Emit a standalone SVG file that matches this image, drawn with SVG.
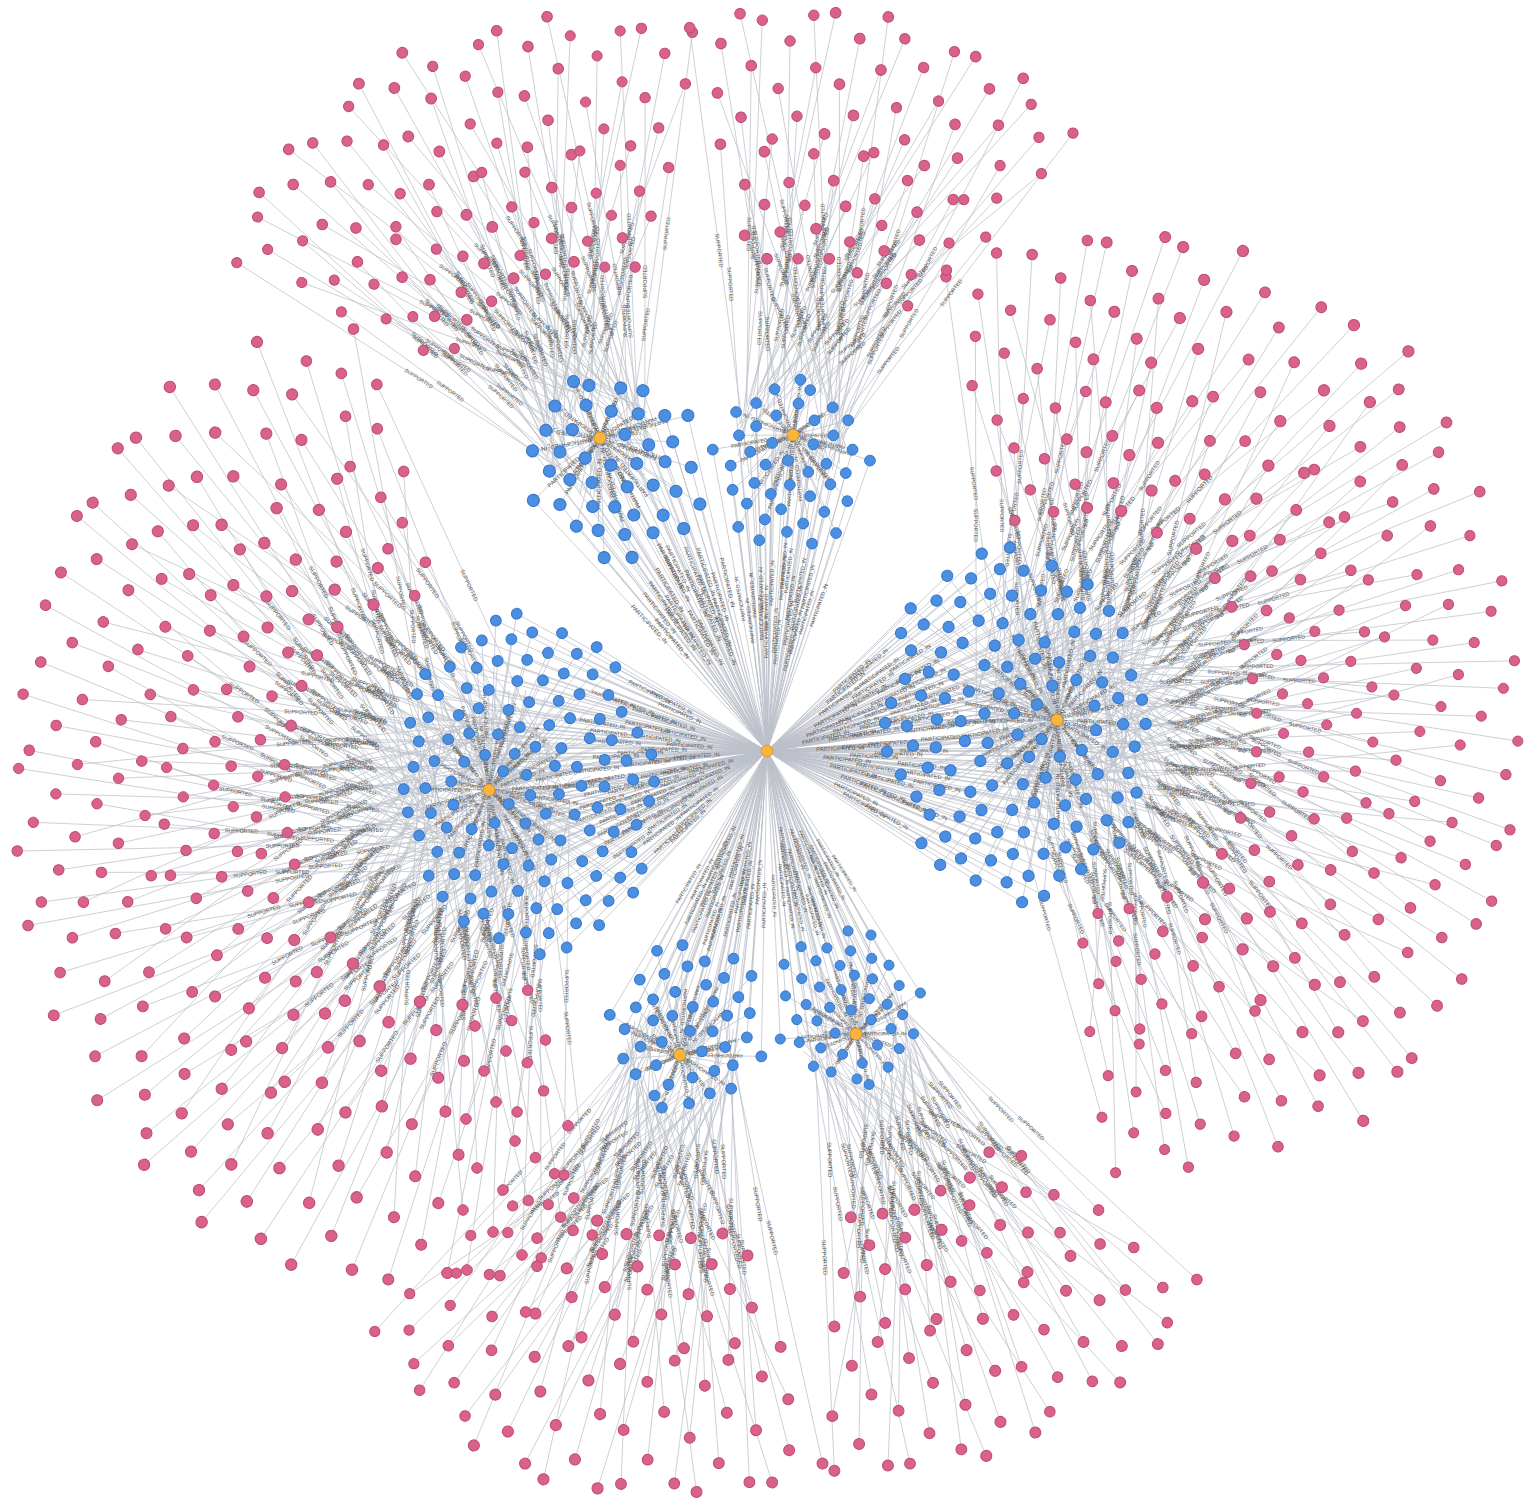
<svg xmlns="http://www.w3.org/2000/svg" width="1532" height="1512" viewBox="0 0 1532 1512">
<style>
.e{fill:none;stroke:#bcc0c9;stroke-width:.75;vector-effect:non-scaling-stroke}
.p circle{fill:#d8628b;stroke:#c04b75;stroke-width:1}
.b circle{fill:#4a8fe1;stroke:#3877c8;stroke-width:1}
.y{fill:#fbb53c;stroke:#e09b24;stroke-width:1}
text{font-family:"Liberation Sans",Arial,sans-serif;font-size:5.5px;fill:#555;text-anchor:middle;dominant-baseline:central}
</style>
<rect width="1532" height="1512" fill="#fff"/>
<defs>
<path id="pbL" class="e" d="M208 -7L50 -30M236 14L70 40M261 -17L10 20M281 5L80 -20M312 -7L-40 60M329 23L30 -60M351 -26L60 10M378 12L-70 30M400 -14L20 -80M420 26L-20 70M442 -4L-100 -20M465 -33L40 -50M480 22L-50 -60"/>
<g id="pbN" class="p"><circle cx="208" cy="-7" r="5.3"/><circle cx="236" cy="14" r="5.3"/><circle cx="261" cy="-17" r="5.3"/><circle cx="281" cy="5" r="5.3"/><circle cx="312" cy="-7" r="5.3"/><circle cx="329" cy="23" r="5.3"/><circle cx="351" cy="-26" r="5.3"/><circle cx="378" cy="12" r="5.3"/><circle cx="400" cy="-14" r="5.3"/><circle cx="420" cy="26" r="5.3"/><circle cx="442" cy="-4" r="5.3"/><circle cx="465" cy="-33" r="5.3"/><circle cx="480" cy="22" r="5.3"/></g>
<g id="pbT"><text transform="translate(129 -18.5)rotate(8.3)">SUPPORTED</text><text transform="translate(153 27)rotate(-8.9)">SUPPORTED</text><text transform="translate(135.5 1.5)rotate(-8.4)">SUPPORTED</text><text transform="translate(180.5 -7.5)rotate(7.1)">SUPPORTED</text><text transform="translate(136 26.5)rotate(-10.8)">SUPPORTED</text><text transform="translate(179.5 -18.5)rotate(15.5)">SUPPORTED</text><text transform="translate(205.5 -8)rotate(-7.1)">SUPPORTED</text><text transform="translate(154 21)rotate(-2.3)">SUPPORTED</text><text transform="translate(210 -47)rotate(9.9)">SUPPORTED</text><text transform="translate(200 48)rotate(-5.7)">SUPPORTED</text><text transform="translate(171 -12)rotate(1.7)">SUPPORTED</text><text transform="translate(252.5 -41.5)rotate(2.3)">SUPPORTED</text><text transform="translate(215 -19)rotate(8.8)">SUPPORTED</text></g>
<g id="pbF"><text transform="translate(129 -18.5)rotate(188.3)">SUPPORTED</text><text transform="translate(153 27)rotate(171.1)">SUPPORTED</text><text transform="translate(135.5 1.5)rotate(171.6)">SUPPORTED</text><text transform="translate(180.5 -7.5)rotate(187.1)">SUPPORTED</text><text transform="translate(136 26.5)rotate(169.2)">SUPPORTED</text><text transform="translate(179.5 -18.5)rotate(195.5)">SUPPORTED</text><text transform="translate(205.5 -8)rotate(172.9)">SUPPORTED</text><text transform="translate(154 21)rotate(177.7)">SUPPORTED</text><text transform="translate(210 -47)rotate(189.9)">SUPPORTED</text><text transform="translate(200 48)rotate(174.3)">SUPPORTED</text><text transform="translate(171 -12)rotate(181.7)">SUPPORTED</text><text transform="translate(252.5 -41.5)rotate(182.3)">SUPPORTED</text><text transform="translate(215 -19)rotate(188.8)">SUPPORTED</text></g>
<path id="psL" class="e" d="M178 5L30 -20M205 -13L40 30M232 12L-10 -40M255 -4L50 10M284 21L-40 30M299 -21L20 -50M322 4L60 -10M350 -15L-20 50M371 23L40 -40M398 -3L-60 -10M424 21L10 40M419 -31L-30 -50"/>
<g id="psN" class="p"><circle cx="178" cy="5" r="5.3"/><circle cx="205" cy="-13" r="5.3"/><circle cx="232" cy="12" r="5.3"/><circle cx="255" cy="-4" r="5.3"/><circle cx="284" cy="21" r="5.3"/><circle cx="299" cy="-21" r="5.3"/><circle cx="322" cy="4" r="5.3"/><circle cx="350" cy="-15" r="5.3"/><circle cx="371" cy="23" r="5.3"/><circle cx="398" cy="-3" r="5.3"/><circle cx="424" cy="21" r="5.3"/><circle cx="419" cy="-31" r="5.3"/></g>
<g id="psT"><text transform="translate(104 -7.5)rotate(9.6)">SUPPORTED</text><text transform="translate(122.5 8.5)rotate(-14.6)">SUPPORTED</text><text transform="translate(111 -14)rotate(12.1)">SUPPORTED</text><text transform="translate(152.5 3)rotate(-3.9)">SUPPORTED</text><text transform="translate(122 25.5)rotate(-1.6)">SUPPORTED</text><text transform="translate(159.5 -35.5)rotate(5.9)">SUPPORTED</text><text transform="translate(191 -3)rotate(3.1)">SUPPORTED</text><text transform="translate(165 17.5)rotate(-10)">SUPPORTED</text><text transform="translate(205.5 -8.5)rotate(10.8)">SUPPORTED</text><text transform="translate(169 -6.5)rotate(.9)">SUPPORTED</text><text transform="translate(217 30.5)rotate(-2.6)">SUPPORTED</text><text transform="translate(194.5 -40.5)rotate(2.4)">SUPPORTED</text></g>
<g id="psF"><text transform="translate(104 -7.5)rotate(189.6)">SUPPORTED</text><text transform="translate(122.5 8.5)rotate(165.4)">SUPPORTED</text><text transform="translate(111 -14)rotate(192.1)">SUPPORTED</text><text transform="translate(152.5 3)rotate(176.1)">SUPPORTED</text><text transform="translate(122 25.5)rotate(178.4)">SUPPORTED</text><text transform="translate(159.5 -35.5)rotate(185.9)">SUPPORTED</text><text transform="translate(191 -3)rotate(183.1)">SUPPORTED</text><text transform="translate(165 17.5)rotate(170)">SUPPORTED</text><text transform="translate(205.5 -8.5)rotate(190.8)">SUPPORTED</text><text transform="translate(169 -6.5)rotate(180.9)">SUPPORTED</text><text transform="translate(217 30.5)rotate(177.4)">SUPPORTED</text><text transform="translate(194.5 -40.5)rotate(182.4)">SUPPORTED</text></g>
<path id="bbL" class="e" d="M0 0L-168 -15L-286 0M0 0L-147 -10L-286 0M0 0L-117 -13L-286 0M0 0L-94 -9L-286 0M0 0L-70 -14L-286 0M0 0L-41 -11L-286 0M0 0L-18 -17L-286 0M0 0L38 -10L-286 0M0 0L62 -15L-286 0M0 0L85 -11L-286 0M0 0L-160 -34L-286 0M0 0L-130 -38L-286 0M0 0L-107 -33L-286 0M0 0L-83 -37L-286 0M0 0L-54 -32L-286 0M0 0L-32 -39L-286 0M0 0L-1 -34L-286 0M0 0L23 -37L-286 0M0 0L48 -32L-286 0M0 0L77 -36L-286 0M0 0L-144 -56L-286 0M0 0L-120 -60L-286 0M0 0L-96 -55L-286 0M0 0L-65 -61L-286 0M0 0L-43 -57L-286 0M0 0L-15 -62L-286 0M0 0L8 -56L-286 0M0 0L39 -59L-286 0M0 0L61 -55L-286 0M0 0L-135 -83L-286 0M0 0L-106 -78L-286 0M0 0L-84 -85L-286 0M0 0L-53 -79L-286 0M0 0L-29 -82L-286 0M0 0L-4 -77L-286 0M0 0L26 -84L-286 0M0 0L47 -80L-286 0M0 0L73 -78L-286 0M0 0L-143 -101L-286 0M0 0L-120 -107L-286 0M0 0L-96 -102L-286 0M0 0L-66 -105L-286 0M0 0L-43 -100L-286 0M0 0L-15 -106L-286 0M0 0L12 -103L-286 0M0 0L34 -107L-286 0M0 0L62 -101L-286 0M0 0L-131 -124L-286 0M0 0L-105 -129L-286 0M0 0L-82 -125L-286 0M0 0L-52 -130L-286 0M0 0L-31 -126L-286 0M0 0L-2 -128L-286 0M0 0L23 -124L-286 0M0 0L44 -129L-286 0M0 0L-92 -152L-286 0M0 0L-69 -147L-286 0M0 0L-40 -153L-286 0M0 0L-17 -149L-286 0M0 0L11 -151L-286 0M0 0L-56 -170L-286 0M0 0L-28 -173L-286 0M0 0L-169 13L-286 0M0 0L-143 10L-286 0M0 0L-121 14L-286 0M0 0L-92 11L-286 0M0 0L-70 15L-286 0M0 0L-40 10L-286 0M0 0L-17 17L-286 0M0 0L37 14L-286 0M0 0L64 11L-286 0M0 0L86 13L-286 0M0 0L-158 37L-286 0M0 0L-131 33L-286 0M0 0L-109 38L-286 0M0 0L-79 32L-286 0M0 0L-53 37L-286 0M0 0L-31 33L-286 0M0 0L-1 36L-286 0M0 0L21 32L-286 0M0 0L51 37L-286 0M0 0L73 34L-286 0M0 0L-145 60L-286 0M0 0L-122 56L-286 0M0 0L-92 61L-286 0M0 0L-70 57L-286 0M0 0L-40 59L-286 0M0 0L-17 55L-286 0M0 0L12 60L-286 0M0 0L34 57L-286 0M0 0L64 59L-286 0M0 0L-134 79L-286 0M0 0L-105 84L-286 0M0 0L-83 80L-286 0M0 0L-53 83L-286 0M0 0L-31 78L-286 0M0 0L-1 84L-286 0M0 0L20 80L-286 0M0 0L51 82L-286 0M0 0L70 79L-286 0M0 0L-145 106L-286 0M0 0L-121 102L-286 0M0 0L-92 107L-286 0M0 0L-70 103L-286 0M0 0L-44 106L-286 0M0 0L-14 101L-286 0M0 0L8 106L-286 0M0 0L38 103L-286 0M0 0L59 107L-286 0M0 0L-129 129L-286 0M0 0L-108 125L-286 0M0 0L-79 130L-286 0M0 0L-57 126L-286 0M0 0L-27 129L-286 0M0 0L-5 125L-286 0M0 0L22 130L-286 0M0 0L48 126L-286 0M0 0L-96 148L-286 0M0 0L-66 153L-286 0M0 0L-44 149L-286 0M0 0L-14 152L-286 0M0 0L8 148L-286 0M0 0L-53 174L-286 0M0 0L-31 170L-286 0"/>
<g id="bbN" class="b"><circle cx="-168" cy="-15" r="5.5"/><circle cx="-147" cy="-10" r="5.5"/><circle cx="-117" cy="-13" r="5.5"/><circle cx="-94" cy="-9" r="5.5"/><circle cx="-70" cy="-14" r="5.5"/><circle cx="-41" cy="-11" r="5.5"/><circle cx="-18" cy="-17" r="5.5"/><circle cx="38" cy="-10" r="5.5"/><circle cx="62" cy="-15" r="5.5"/><circle cx="85" cy="-11" r="5.5"/><circle cx="-160" cy="-34" r="5.5"/><circle cx="-130" cy="-38" r="5.5"/><circle cx="-107" cy="-33" r="5.5"/><circle cx="-83" cy="-37" r="5.5"/><circle cx="-54" cy="-32" r="5.5"/><circle cx="-32" cy="-39" r="5.5"/><circle cx="-1" cy="-34" r="5.5"/><circle cx="23" cy="-37" r="5.5"/><circle cx="48" cy="-32" r="5.5"/><circle cx="77" cy="-36" r="5.5"/><circle cx="-144" cy="-56" r="5.5"/><circle cx="-120" cy="-60" r="5.5"/><circle cx="-96" cy="-55" r="5.5"/><circle cx="-65" cy="-61" r="5.5"/><circle cx="-43" cy="-57" r="5.5"/><circle cx="-15" cy="-62" r="5.5"/><circle cx="8" cy="-56" r="5.5"/><circle cx="39" cy="-59" r="5.5"/><circle cx="61" cy="-55" r="5.5"/><circle cx="-135" cy="-83" r="5.5"/><circle cx="-106" cy="-78" r="5.5"/><circle cx="-84" cy="-85" r="5.5"/><circle cx="-53" cy="-79" r="5.5"/><circle cx="-29" cy="-82" r="5.5"/><circle cx="-4" cy="-77" r="5.5"/><circle cx="26" cy="-84" r="5.5"/><circle cx="47" cy="-80" r="5.5"/><circle cx="73" cy="-78" r="5.5"/><circle cx="-143" cy="-101" r="5.5"/><circle cx="-120" cy="-107" r="5.5"/><circle cx="-96" cy="-102" r="5.5"/><circle cx="-66" cy="-105" r="5.5"/><circle cx="-43" cy="-100" r="5.5"/><circle cx="-15" cy="-106" r="5.5"/><circle cx="12" cy="-103" r="5.5"/><circle cx="34" cy="-107" r="5.5"/><circle cx="62" cy="-101" r="5.5"/><circle cx="-131" cy="-124" r="5.5"/><circle cx="-105" cy="-129" r="5.5"/><circle cx="-82" cy="-125" r="5.5"/><circle cx="-52" cy="-130" r="5.5"/><circle cx="-31" cy="-126" r="5.5"/><circle cx="-2" cy="-128" r="5.5"/><circle cx="23" cy="-124" r="5.5"/><circle cx="44" cy="-129" r="5.5"/><circle cx="-92" cy="-152" r="5.5"/><circle cx="-69" cy="-147" r="5.5"/><circle cx="-40" cy="-153" r="5.5"/><circle cx="-17" cy="-149" r="5.5"/><circle cx="11" cy="-151" r="5.5"/><circle cx="-56" cy="-170" r="5.5"/><circle cx="-28" cy="-173" r="5.5"/><circle cx="-169" cy="13" r="5.5"/><circle cx="-143" cy="10" r="5.5"/><circle cx="-121" cy="14" r="5.5"/><circle cx="-92" cy="11" r="5.5"/><circle cx="-70" cy="15" r="5.5"/><circle cx="-40" cy="10" r="5.5"/><circle cx="-17" cy="17" r="5.5"/><circle cx="37" cy="14" r="5.5"/><circle cx="64" cy="11" r="5.5"/><circle cx="86" cy="13" r="5.5"/><circle cx="-158" cy="37" r="5.5"/><circle cx="-131" cy="33" r="5.5"/><circle cx="-109" cy="38" r="5.5"/><circle cx="-79" cy="32" r="5.5"/><circle cx="-53" cy="37" r="5.5"/><circle cx="-31" cy="33" r="5.5"/><circle cx="-1" cy="36" r="5.5"/><circle cx="21" cy="32" r="5.5"/><circle cx="51" cy="37" r="5.5"/><circle cx="73" cy="34" r="5.5"/><circle cx="-145" cy="60" r="5.5"/><circle cx="-122" cy="56" r="5.5"/><circle cx="-92" cy="61" r="5.5"/><circle cx="-70" cy="57" r="5.5"/><circle cx="-40" cy="59" r="5.5"/><circle cx="-17" cy="55" r="5.5"/><circle cx="12" cy="60" r="5.5"/><circle cx="34" cy="57" r="5.5"/><circle cx="64" cy="59" r="5.5"/><circle cx="-134" cy="79" r="5.5"/><circle cx="-105" cy="84" r="5.5"/><circle cx="-83" cy="80" r="5.5"/><circle cx="-53" cy="83" r="5.5"/><circle cx="-31" cy="78" r="5.5"/><circle cx="-1" cy="84" r="5.5"/><circle cx="20" cy="80" r="5.5"/><circle cx="51" cy="82" r="5.5"/><circle cx="70" cy="79" r="5.5"/><circle cx="-145" cy="106" r="5.5"/><circle cx="-121" cy="102" r="5.5"/><circle cx="-92" cy="107" r="5.5"/><circle cx="-70" cy="103" r="5.5"/><circle cx="-44" cy="106" r="5.5"/><circle cx="-14" cy="101" r="5.5"/><circle cx="8" cy="106" r="5.5"/><circle cx="38" cy="103" r="5.5"/><circle cx="59" cy="107" r="5.5"/><circle cx="-129" cy="129" r="5.5"/><circle cx="-108" cy="125" r="5.5"/><circle cx="-79" cy="130" r="5.5"/><circle cx="-57" cy="126" r="5.5"/><circle cx="-27" cy="129" r="5.5"/><circle cx="-5" cy="125" r="5.5"/><circle cx="22" cy="130" r="5.5"/><circle cx="48" cy="126" r="5.5"/><circle cx="-96" cy="148" r="5.5"/><circle cx="-66" cy="153" r="5.5"/><circle cx="-44" cy="149" r="5.5"/><circle cx="-14" cy="152" r="5.5"/><circle cx="8" cy="148" r="5.5"/><circle cx="-53" cy="174" r="5.5"/><circle cx="-31" cy="170" r="5.5"/></g>
<g id="bbH3"><text x="-84" transform="rotate(5.1)">PARTICIPATED_IN</text><text x="-47" transform="rotate(5.5)">PARTICIPATED_IN</text><text x="-21" transform="rotate(15)">PARTICIPATED_IN</text><text x="-12" transform="rotate(43.4)">PARTICIPATED_IN</text><text x="20" transform="rotate(-14.7)">PARTICIPATED_IN</text><text x="43" transform="rotate(-7.4)">PARTICIPATED_IN</text><text x="-68" transform="rotate(16.3)">PARTICIPATED_IN</text><text x="-45" transform="rotate(24)">PARTICIPATED_IN</text><text x="-25" transform="rotate(50.6)">PARTICIPATED_IN</text><text x="22" transform="rotate(-58.1)">PARTICIPATED_IN</text><text x="42" transform="rotate(-25.1)">PARTICIPATED_IN</text><text x="-67" transform="rotate(26.6)">PARTICIPATED_IN</text><text x="-36" transform="rotate(53)">PARTICIPATED_IN</text><text x="28" transform="rotate(-81.9)">PARTICIPATED_IN</text><text x="41" transform="rotate(-42)">PARTICIPATED_IN</text><text x="-60" transform="rotate(45.3)">PARTICIPATED_IN</text><text x="-39" transform="rotate(87)">PARTICIPATED_IN</text><text x="46" transform="rotate(-59.6)">PARTICIPATED_IN</text><text x="-54" transform="rotate(66.7)">PARTICIPATED_IN</text><text x="56" transform="rotate(-72.4)">PARTICIPATED_IN</text><text x="-70" transform="rotate(68.2)">PARTICIPATED_IN</text><text x="-64" transform="rotate(89.1)">PARTICIPATED_IN</text><text x="-75" transform="rotate(83.5)">PARTICIPATED_IN</text><text x="-72" transform="rotate(-4)">PARTICIPATED_IN</text><text x="-36" transform="rotate(-12.1)">PARTICIPATED_IN</text><text x="-12" transform="rotate(-45)">PARTICIPATED_IN</text><text x="20" transform="rotate(20.7)">PARTICIPATED_IN</text><text x="43" transform="rotate(8.6)">PARTICIPATED_IN</text><text x="-58" transform="rotate(-19.2)">PARTICIPATED_IN</text><text x="-32" transform="rotate(-34.9)">PARTICIPATED_IN</text><text x="-18" transform="rotate(-88.4)">PARTICIPATED_IN</text><text x="32" transform="rotate(36)">PARTICIPATED_IN</text><text x="-55" transform="rotate(-33.5)">PARTICIPATED_IN</text><text x="-29" transform="rotate(-72.8)">PARTICIPATED_IN</text><text x="33" transform="rotate(59.2)">PARTICIPATED_IN</text><text x="-58" transform="rotate(-43.9)">PARTICIPATED_IN</text><text x="-42" transform="rotate(-89.3)">PARTICIPATED_IN</text><text x="48" transform="rotate(58.1)">PARTICIPATED_IN</text><text x="-57" transform="rotate(-67.5)">PARTICIPATED_IN</text><text x="53" transform="rotate(85.7)">PARTICIPATED_IN</text><text x="-69" transform="rotate(-65.7)">PARTICIPATED_IN</text><text x="66" transform="rotate(80.4)">PARTICIPATED_IN</text><text x="-76" transform="rotate(-84.7)">PARTICIPATED_IN</text></g>
<g id="bbH4"><text x="84" transform="rotate(-174.9)">PARTICIPATED_IN</text><text x="47" transform="rotate(-174.5)">PARTICIPATED_IN</text><text x="21" transform="rotate(-165)">PARTICIPATED_IN</text><text x="12" transform="rotate(-136.6)">PARTICIPATED_IN</text><text x="-20" transform="rotate(165.3)">PARTICIPATED_IN</text><text x="-43" transform="rotate(172.6)">PARTICIPATED_IN</text><text x="68" transform="rotate(-163.7)">PARTICIPATED_IN</text><text x="45" transform="rotate(-156)">PARTICIPATED_IN</text><text x="25" transform="rotate(-129.4)">PARTICIPATED_IN</text><text x="-22" transform="rotate(121.9)">PARTICIPATED_IN</text><text x="-42" transform="rotate(154.9)">PARTICIPATED_IN</text><text x="67" transform="rotate(-153.4)">PARTICIPATED_IN</text><text x="36" transform="rotate(-127)">PARTICIPATED_IN</text><text x="-28" transform="rotate(98.1)">PARTICIPATED_IN</text><text x="-41" transform="rotate(138)">PARTICIPATED_IN</text><text x="60" transform="rotate(-134.7)">PARTICIPATED_IN</text><text x="39" transform="rotate(-93)">PARTICIPATED_IN</text><text x="-46" transform="rotate(120.4)">PARTICIPATED_IN</text><text x="54" transform="rotate(-113.3)">PARTICIPATED_IN</text><text x="-56" transform="rotate(107.6)">PARTICIPATED_IN</text><text x="70" transform="rotate(-111.8)">PARTICIPATED_IN</text><text x="64" transform="rotate(-90.9)">PARTICIPATED_IN</text><text x="75" transform="rotate(-96.5)">PARTICIPATED_IN</text><text x="72" transform="rotate(176)">PARTICIPATED_IN</text><text x="36" transform="rotate(167.9)">PARTICIPATED_IN</text><text x="12" transform="rotate(135)">PARTICIPATED_IN</text><text x="-20" transform="rotate(-159.3)">PARTICIPATED_IN</text><text x="-43" transform="rotate(-171.4)">PARTICIPATED_IN</text><text x="58" transform="rotate(160.8)">PARTICIPATED_IN</text><text x="32" transform="rotate(145.1)">PARTICIPATED_IN</text><text x="18" transform="rotate(91.6)">PARTICIPATED_IN</text><text x="-32" transform="rotate(-144)">PARTICIPATED_IN</text><text x="55" transform="rotate(146.5)">PARTICIPATED_IN</text><text x="29" transform="rotate(107.2)">PARTICIPATED_IN</text><text x="-33" transform="rotate(-120.8)">PARTICIPATED_IN</text><text x="58" transform="rotate(136.1)">PARTICIPATED_IN</text><text x="42" transform="rotate(90.7)">PARTICIPATED_IN</text><text x="-48" transform="rotate(-121.9)">PARTICIPATED_IN</text><text x="57" transform="rotate(112.5)">PARTICIPATED_IN</text><text x="-53" transform="rotate(-94.3)">PARTICIPATED_IN</text><text x="69" transform="rotate(114.3)">PARTICIPATED_IN</text><text x="-66" transform="rotate(-99.6)">PARTICIPATED_IN</text><text x="76" transform="rotate(95.3)">PARTICIPATED_IN</text></g>
<g id="bbC3" transform="translate(-286 0)"><text x="59" transform="rotate(-7.2)">PARTICIPATED_IN</text><text x="85" transform="rotate(-4.4)">PARTICIPATED_IN</text><text x="108" transform="rotate(-3.7)">PARTICIPATED_IN</text><text x="162" transform="rotate(-1.8)">PARTICIPATED_IN</text><text x="186" transform="rotate(-1.7)">PARTICIPATED_IN</text><text x="65" transform="rotate(-15.1)">PARTICIPATED_IN</text><text x="91" transform="rotate(-10.4)">PARTICIPATED_IN</text><text x="117" transform="rotate(-7.9)">PARTICIPATED_IN</text><text x="144" transform="rotate(-6.8)">PARTICIPATED_IN</text><text x="168" transform="rotate(-5.5)">PARTICIPATED_IN</text><text x="76" transform="rotate(-21.5)">PARTICIPATED_IN</text><text x="99" transform="rotate(-16.1)">PARTICIPATED_IN</text><text x="125" transform="rotate(-13.2)">PARTICIPATED_IN</text><text x="150" transform="rotate(-10.8)">PARTICIPATED_IN</text><text x="176" transform="rotate(-9)">PARTICIPATED_IN</text><text x="86" transform="rotate(-28.8)">PARTICIPATED_IN</text><text x="110" transform="rotate(-22.8)">PARTICIPATED_IN</text><text x="135" transform="rotate(-17.7)">PARTICIPATED_IN</text><text x="162" transform="rotate(-15.1)">PARTICIPATED_IN</text><text x="184" transform="rotate(-12.3)">PARTICIPATED_IN</text><text x="99" transform="rotate(-32.8)">PARTICIPATED_IN</text><text x="122" transform="rotate(-25.5)">PARTICIPATED_IN</text><text x="146" transform="rotate(-21.4)">PARTICIPATED_IN</text><text x="169" transform="rotate(-18.5)">PARTICIPATED_IN</text><text x="111" transform="rotate(-35.5)">PARTICIPATED_IN</text><text x="134" transform="rotate(-29.1)">PARTICIPATED_IN</text><text x="167" transform="rotate(-21.9)">PARTICIPATED_IN</text><text x="131" transform="rotate(-34.1)">PARTICIPATED_IN</text><text x="167" transform="rotate(-26.9)">PARTICIPATED_IN</text><text x="72" transform="rotate(4)">PARTICIPATED_IN</text><text x="97" transform="rotate(3.2)">PARTICIPATED_IN</text><text x="123" transform="rotate(2.3)">PARTICIPATED_IN</text><text x="175" transform="rotate(1.8)">PARTICIPATED_IN</text><text x="79" transform="rotate(12)">PARTICIPATED_IN</text><text x="105" transform="rotate(8.8)">PARTICIPATED_IN</text><text x="129" transform="rotate(7.4)">PARTICIPATED_IN</text><text x="154" transform="rotate(6)">PARTICIPATED_IN</text><text x="87" transform="rotate(18.9)">PARTICIPATED_IN</text><text x="112" transform="rotate(14.8)">PARTICIPATED_IN</text><text x="152" transform="rotate(11.4)">PARTICIPATED_IN</text><text x="100" transform="rotate(24.9)">PARTICIPATED_IN</text><text x="124" transform="rotate(19.6)">PARTICIPATED_IN</text><text x="158" transform="rotate(14.7)">PARTICIPATED_IN</text><text x="97" transform="rotate(31.7)">PARTICIPATED_IN</text><text x="120" transform="rotate(25.5)">PARTICIPATED_IN</text><text x="170" transform="rotate(17.6)">PARTICIPATED_IN</text><text x="109" transform="rotate(35.1)">PARTICIPATED_IN</text><text x="145" transform="rotate(26.5)">PARTICIPATED_IN</text><text x="134" transform="rotate(34.8)">PARTICIPATED_IN</text><text x="165" transform="rotate(26.7)">PARTICIPATED_IN</text></g>
<g id="bbC4" transform="translate(-286 0)"><text x="-59" transform="rotate(172.8)">PARTICIPATED_IN</text><text x="-85" transform="rotate(175.6)">PARTICIPATED_IN</text><text x="-108" transform="rotate(176.3)">PARTICIPATED_IN</text><text x="-162" transform="rotate(178.2)">PARTICIPATED_IN</text><text x="-186" transform="rotate(178.3)">PARTICIPATED_IN</text><text x="-65" transform="rotate(164.9)">PARTICIPATED_IN</text><text x="-91" transform="rotate(169.6)">PARTICIPATED_IN</text><text x="-117" transform="rotate(172.1)">PARTICIPATED_IN</text><text x="-144" transform="rotate(173.2)">PARTICIPATED_IN</text><text x="-168" transform="rotate(174.5)">PARTICIPATED_IN</text><text x="-76" transform="rotate(158.5)">PARTICIPATED_IN</text><text x="-99" transform="rotate(163.9)">PARTICIPATED_IN</text><text x="-125" transform="rotate(166.8)">PARTICIPATED_IN</text><text x="-150" transform="rotate(169.2)">PARTICIPATED_IN</text><text x="-176" transform="rotate(171)">PARTICIPATED_IN</text><text x="-86" transform="rotate(151.2)">PARTICIPATED_IN</text><text x="-110" transform="rotate(157.2)">PARTICIPATED_IN</text><text x="-135" transform="rotate(162.3)">PARTICIPATED_IN</text><text x="-162" transform="rotate(164.9)">PARTICIPATED_IN</text><text x="-184" transform="rotate(167.7)">PARTICIPATED_IN</text><text x="-99" transform="rotate(147.2)">PARTICIPATED_IN</text><text x="-122" transform="rotate(154.5)">PARTICIPATED_IN</text><text x="-146" transform="rotate(158.6)">PARTICIPATED_IN</text><text x="-169" transform="rotate(161.5)">PARTICIPATED_IN</text><text x="-111" transform="rotate(144.5)">PARTICIPATED_IN</text><text x="-134" transform="rotate(150.9)">PARTICIPATED_IN</text><text x="-167" transform="rotate(158.1)">PARTICIPATED_IN</text><text x="-131" transform="rotate(145.9)">PARTICIPATED_IN</text><text x="-167" transform="rotate(153.1)">PARTICIPATED_IN</text><text x="-72" transform="rotate(184)">PARTICIPATED_IN</text><text x="-97" transform="rotate(183.2)">PARTICIPATED_IN</text><text x="-123" transform="rotate(182.3)">PARTICIPATED_IN</text><text x="-175" transform="rotate(181.8)">PARTICIPATED_IN</text><text x="-79" transform="rotate(192)">PARTICIPATED_IN</text><text x="-105" transform="rotate(188.8)">PARTICIPATED_IN</text><text x="-129" transform="rotate(187.4)">PARTICIPATED_IN</text><text x="-154" transform="rotate(186)">PARTICIPATED_IN</text><text x="-87" transform="rotate(198.9)">PARTICIPATED_IN</text><text x="-112" transform="rotate(194.8)">PARTICIPATED_IN</text><text x="-152" transform="rotate(191.4)">PARTICIPATED_IN</text><text x="-100" transform="rotate(204.9)">PARTICIPATED_IN</text><text x="-124" transform="rotate(199.6)">PARTICIPATED_IN</text><text x="-158" transform="rotate(194.7)">PARTICIPATED_IN</text><text x="-97" transform="rotate(211.7)">PARTICIPATED_IN</text><text x="-120" transform="rotate(205.5)">PARTICIPATED_IN</text><text x="-170" transform="rotate(197.6)">PARTICIPATED_IN</text><text x="-109" transform="rotate(215.1)">PARTICIPATED_IN</text><text x="-145" transform="rotate(206.5)">PARTICIPATED_IN</text><text x="-134" transform="rotate(214.8)">PARTICIPATED_IN</text><text x="-165" transform="rotate(206.7)">PARTICIPATED_IN</text></g>
<path id="bsL" class="e" d="M0 0L-101 2L-330 0M0 0L-78 -6L-330 0M0 0L-52 1L-330 0M0 0L-27 -3L-330 0M0 0L33 3L-330 0M0 0L58 3L-330 0M0 0L-90 -22L-330 0M0 0L-63 -18L-330 0M0 0L-33 -26L-330 0M0 0L-10 -21L-330 0M0 0L19 -19L-330 0M0 0L46 -23L-330 0M0 0L-91 18L-330 0M0 0L-62 23L-330 0M0 0L-37 19L-330 0M0 0L-8 22L-330 0M0 0L17 21L-330 0M0 0L48 14L-330 0M0 0L-75 -42L-330 0M0 0L-53 -36L-330 0M0 0L-21 -43L-330 0M0 0L6 -39L-330 0M0 0L30 -41L-330 0M0 0L-77 39L-330 0M0 0L-48 43L-330 0M0 0L-27 37L-330 0M0 0L3 42L-330 0M0 0L32 39L-330 0M0 0L-62 -58L-330 0M0 0L-37 -62L-330 0M0 0L-5 -56L-330 0M0 0L19 -61L-330 0M0 0L-64 62L-330 0M0 0L-35 58L-330 0M0 0L-10 63L-330 0M0 0L20 56L-330 0M0 0L-22 -82L-330 0M0 0L-20 82L-330 0M0 0L-112 -26L-330 0M0 0L-111 29L-330 0M0 0L-100 -49L-330 0M0 0L-98 53L-330 0"/>
<g id="bsN" class="b"><circle cx="-101" cy="2" r="5.6"/><circle cx="-78" cy="-6" r="5.6"/><circle cx="-52" cy="1" r="5.6"/><circle cx="-27" cy="-3" r="5.6"/><circle cx="33" cy="3" r="5.6"/><circle cx="58" cy="3" r="5.6"/><circle cx="-90" cy="-22" r="5.6"/><circle cx="-63" cy="-18" r="5.6"/><circle cx="-33" cy="-26" r="5.6"/><circle cx="-10" cy="-21" r="5.6"/><circle cx="19" cy="-19" r="5.6"/><circle cx="46" cy="-23" r="5.6"/><circle cx="-91" cy="18" r="5.6"/><circle cx="-62" cy="23" r="5.6"/><circle cx="-37" cy="19" r="5.6"/><circle cx="-8" cy="22" r="5.6"/><circle cx="17" cy="21" r="5.6"/><circle cx="48" cy="14" r="5.6"/><circle cx="-75" cy="-42" r="5.6"/><circle cx="-53" cy="-36" r="5.6"/><circle cx="-21" cy="-43" r="5.6"/><circle cx="6" cy="-39" r="5.6"/><circle cx="30" cy="-41" r="5.6"/><circle cx="-77" cy="39" r="5.6"/><circle cx="-48" cy="43" r="5.6"/><circle cx="-27" cy="37" r="5.6"/><circle cx="3" cy="42" r="5.6"/><circle cx="32" cy="39" r="5.6"/><circle cx="-62" cy="-58" r="5.6"/><circle cx="-37" cy="-62" r="5.6"/><circle cx="-5" cy="-56" r="5.6"/><circle cx="19" cy="-61" r="5.6"/><circle cx="-64" cy="62" r="5.6"/><circle cx="-35" cy="58" r="5.6"/><circle cx="-10" cy="63" r="5.6"/><circle cx="20" cy="56" r="5.6"/><circle cx="-22" cy="-82" r="5.6"/><circle cx="-20" cy="82" r="5.6"/><circle cx="-112" cy="-26" r="5.6"/><circle cx="-111" cy="29" r="5.6"/><circle cx="-100" cy="-49" r="5.6"/><circle cx="-98" cy="53" r="5.6"/></g>
<g id="bsH"><text x="-51" transform="rotate(-1.1)">PARTICIPATED_IN</text><text x="-26" transform="rotate(-1.1)">PARTICIPATED_IN</text><text x="16" transform="rotate(5.2)">PARTICIPATED_IN</text><text x="29" transform="rotate(3)">PARTICIPATED_IN</text><text x="-33" transform="rotate(15.9)">PARTICIPATED_IN</text><text x="-12" transform="rotate(64.5)">PARTICIPATED_IN</text><text x="25" transform="rotate(-26.6)">PARTICIPATED_IN</text><text x="-46" transform="rotate(-11.2)">PARTICIPATED_IN</text><text x="-19" transform="rotate(-27.2)">PARTICIPATED_IN</text><text x="14" transform="rotate(51)">PARTICIPATED_IN</text><text x="-43" transform="rotate(29.3)">PARTICIPATED_IN</text><text x="-24" transform="rotate(64)">PARTICIPATED_IN</text><text x="26" transform="rotate(-53.8)">PARTICIPATED_IN</text><text x="-32" transform="rotate(-41.8)">PARTICIPATED_IN</text><text x="21" transform="rotate(85.9)">PARTICIPATED_IN</text><text x="25" transform="rotate(50.6)">PARTICIPATED_IN</text><text x="-37" transform="rotate(59.3)">PARTICIPATED_IN</text><text x="32" transform="rotate(-72.7)">PARTICIPATED_IN</text><text x="-44" transform="rotate(-44.1)">PARTICIPATED_IN</text><text x="-32" transform="rotate(-81)">PARTICIPATED_IN</text><text x="-42" transform="rotate(75)">PARTICIPATED_IN</text><text x="-42" transform="rotate(-76.3)">PARTICIPATED_IN</text><text x="-57" transform="rotate(13.1)">PARTICIPATED_IN</text><text x="-12" transform="rotate(-70)">PARTICIPATED_IN</text></g>
<g id="bsC" transform="translate(-330 0)"><text x="114" transform="rotate(.5)">PARTICIPATED_IN</text><text x="126" transform="rotate(-1.1)">PARTICIPATED_IN</text><text x="181" transform="rotate(.5)">PARTICIPATED_IN</text><text x="120" transform="rotate(-5.2)">PARTICIPATED_IN</text><text x="149" transform="rotate(-5)">PARTICIPATED_IN</text><text x="175" transform="rotate(-3.1)">PARTICIPATED_IN</text><text x="135" transform="rotate(4.9)">PARTICIPATED_IN</text><text x="161" transform="rotate(3.9)">PARTICIPATED_IN</text><text x="189" transform="rotate(2.1)">PARTICIPATED_IN</text><text x="139" transform="rotate(-7.4)">PARTICIPATED_IN</text><text x="168" transform="rotate(-6.7)">PARTICIPATED_IN</text><text x="127" transform="rotate(8.8)">PARTICIPATED_IN</text><text x="152" transform="rotate(6.9)">PARTICIPATED_IN</text><text x="181" transform="rotate(6.2)">PARTICIPATED_IN</text><text x="137" transform="rotate(-12.2)">PARTICIPATED_IN</text><text x="163" transform="rotate(-9.9)">PARTICIPATED_IN</text><text x="150" transform="rotate(11.1)">PARTICIPATED_IN</text><text x="176" transform="rotate(9.2)">PARTICIPATED_IN</text><text x="161" transform="rotate(-14.8)">PARTICIPATED_IN</text><text x="161" transform="rotate(14.8)">PARTICIPATED_IN</text><text x="109" transform="rotate(7.6)">PARTICIPATED_IN</text><text x="194" transform="rotate(.4)">PARTICIPATED_IN</text></g>
<g id="bsCF" transform="translate(-330 0)"><text x="-114" transform="rotate(180.5)">PARTICIPATED_IN</text><text x="-126" transform="rotate(178.9)">PARTICIPATED_IN</text><text x="-181" transform="rotate(180.5)">PARTICIPATED_IN</text><text x="-120" transform="rotate(174.8)">PARTICIPATED_IN</text><text x="-149" transform="rotate(175)">PARTICIPATED_IN</text><text x="-175" transform="rotate(176.9)">PARTICIPATED_IN</text><text x="-135" transform="rotate(184.9)">PARTICIPATED_IN</text><text x="-161" transform="rotate(183.9)">PARTICIPATED_IN</text><text x="-189" transform="rotate(182.1)">PARTICIPATED_IN</text><text x="-139" transform="rotate(172.6)">PARTICIPATED_IN</text><text x="-168" transform="rotate(173.3)">PARTICIPATED_IN</text><text x="-127" transform="rotate(188.8)">PARTICIPATED_IN</text><text x="-152" transform="rotate(186.9)">PARTICIPATED_IN</text><text x="-181" transform="rotate(186.2)">PARTICIPATED_IN</text><text x="-137" transform="rotate(167.8)">PARTICIPATED_IN</text><text x="-163" transform="rotate(170.1)">PARTICIPATED_IN</text><text x="-150" transform="rotate(191.1)">PARTICIPATED_IN</text><text x="-176" transform="rotate(189.2)">PARTICIPATED_IN</text><text x="-161" transform="rotate(165.2)">PARTICIPATED_IN</text><text x="-161" transform="rotate(194.8)">PARTICIPATED_IN</text><text x="-109" transform="rotate(187.6)">PARTICIPATED_IN</text><text x="-194" transform="rotate(180.4)">PARTICIPATED_IN</text></g>
</defs>

<g id="connectors">
<g id="edges-right" transform="translate(1057 720)">
<use href="#bbL" transform="rotate(-6.1)scale(1.02)"/>
<use href="#pbL" transform="rotate(-100)scale(.98)"/><use href="#pbL" transform="rotate(-89)"/><use href="#pbL" transform="rotate(-80)scale(1.03)"/><use href="#pbL" transform="rotate(-71)scale(1.05)"/><use href="#pbL" transform="rotate(-60)scale(1.02)"/><use href="#pbL" transform="rotate(-49)scale(1.06)"/><use href="#pbL" transform="rotate(-40)scale(1.02)"/><use href="#pbL" transform="rotate(-31)"/><use href="#pbL" transform="rotate(-20)scale(.97)"/><use href="#pbL" transform="rotate(-10)scale(.96)"/><use href="#pbL" transform="scale(.96)"/><use href="#pbL" transform="rotate(11)scale(.97)"/><use href="#pbL" transform="rotate(20)scale(.98)"/><use href="#pbL" transform="rotate(30)"/><use href="#pbL" transform="rotate(41)scale(1.02)"/><use href="#pbL" transform="rotate(50)scale(1.05)"/><use href="#pbL" transform="rotate(60)"/><use href="#pbL" transform="rotate(71)scale(.97)"/><use href="#pbL" transform="rotate(80)scale(.95)"/>
</g>
<g id="edges-left" transform="translate(489 790)">
<use href="#bbL" transform="rotate(172)scale(.981)"/>
<use href="#pbL" transform="rotate(81)scale(.98)"/><use href="#pbL" transform="rotate(90)"/><use href="#pbL" transform="rotate(99)scale(1.04)"/><use href="#pbL" transform="rotate(110)scale(1.07)"/><use href="#pbL" transform="rotate(121)scale(1.08)"/><use href="#pbL" transform="rotate(130)scale(1.06)"/><use href="#pbL" transform="rotate(139)scale(1.04)"/><use href="#pbL" transform="rotate(150)scale(1.02)"/><use href="#pbL" transform="rotate(161)"/><use href="#pbL" transform="rotate(170)scale(.99)"/><use href="#pbL" transform="rotate(180)scale(.98)"/><use href="#pbL" transform="rotate(189)scale(.99)"/><use href="#pbL" transform="rotate(200)"/><use href="#pbL" transform="rotate(211)scale(1.03)"/><use href="#pbL" transform="rotate(220)scale(1.05)"/><use href="#pbL" transform="rotate(229)scale(1.07)"/><use href="#pbL" transform="rotate(240)scale(1.05)"/><use href="#pbL" transform="rotate(251)"/>
</g>
<g id="edges-topleft" transform="translate(600 438)">
<use href="#bsL" transform="rotate(-118.1)scale(1.075)"/>
<use href="#psL" transform="rotate(-150)scale(.96)"/><use href="#psL" transform="rotate(-140)"/><use href="#psL" transform="rotate(-130)scale(.98)"/><use href="#psL" transform="rotate(-120)scale(1.02)"/><use href="#psL" transform="rotate(-110)scale(.97)"/><use href="#psL" transform="rotate(-100)"/><use href="#psL" transform="rotate(-90)scale(.96)"/><use href="#psL" transform="rotate(-80)scale(.98)"/>
</g>
<g id="edges-top" transform="translate(793 435)">
<use href="#bsL" transform="rotate(-85.3)scale(.961)"/>
<use href="#psL" transform="rotate(-100)"/><use href="#psL" transform="rotate(-90)scale(.99)"/><use href="#psL" transform="rotate(-80)scale(1.01)"/><use href="#psL" transform="rotate(-70)scale(.98)"/><use href="#psL" transform="rotate(-60)"/><use href="#psL" transform="rotate(-50)scale(.97)"/>
</g>
<g id="edges-bottom" transform="translate(680 1055)">
<use href="#bsL" transform="rotate(106)scale(.958)"/>
<use href="#psL" transform="rotate(75)scale(1.03)"/><use href="#psL" transform="rotate(85)scale(1.03)"/><use href="#psL" transform="rotate(95)scale(1.02)"/><use href="#psL" transform="rotate(105)scale(1.05)"/><use href="#psL" transform="rotate(115)scale(1.04)"/><use href="#psL" transform="rotate(125)"/><use href="#psL" transform="rotate(135)scale(.97)"/>
</g>
<g id="edges-bottomright" transform="translate(856 1034)">
<use href="#bsL" transform="rotate(72.5)scale(.899)"/>
<use href="#psL" transform="rotate(40)"/><use href="#psL" transform="rotate(50)scale(1.03)"/><use href="#psL" transform="rotate(60)"/><use href="#psL" transform="rotate(70)scale(1.04)"/><use href="#psL" transform="rotate(80)scale(1.02)"/><use href="#psL" transform="rotate(90)scale(1.03)"/>
</g>
</g>

<g id="edge-labels">
<g transform="translate(1057 720)">
<use href="#bbH3" transform="rotate(-6.1)scale(1.02)"/><use href="#bbC3" transform="rotate(-6.1)scale(1.02)"/>
<use href="#pbF" transform="rotate(-100)scale(.98)"/><use href="#pbT" transform="rotate(-89)"/><use href="#pbT" transform="rotate(-80)scale(1.03)"/><use href="#pbT" transform="rotate(-71)scale(1.05)"/><use href="#pbT" transform="rotate(-60)scale(1.02)"/><use href="#pbT" transform="rotate(-49)scale(1.06)"/><use href="#pbT" transform="rotate(-40)scale(1.02)"/><use href="#pbT" transform="rotate(-31)"/><use href="#pbT" transform="rotate(-20)scale(.97)"/><use href="#pbT" transform="rotate(-10)scale(.96)"/><use href="#pbT" transform="scale(.96)"/><use href="#pbT" transform="rotate(11)scale(.97)"/><use href="#pbT" transform="rotate(20)scale(.98)"/><use href="#pbT" transform="rotate(30)"/><use href="#pbT" transform="rotate(41)scale(1.02)"/><use href="#pbT" transform="rotate(50)scale(1.05)"/><use href="#pbT" transform="rotate(60)"/><use href="#pbT" transform="rotate(71)scale(.97)"/><use href="#pbT" transform="rotate(80)scale(.95)"/>
</g>
<g transform="translate(489 790)">
<use href="#bbH4" transform="rotate(172)scale(.981)"/><use href="#bbC4" transform="rotate(172)scale(.981)"/>
<use href="#pbT" transform="rotate(81)scale(.98)"/><use href="#pbT" transform="rotate(90)"/><use href="#pbF" transform="rotate(99)scale(1.04)"/><use href="#pbF" transform="rotate(110)scale(1.07)"/><use href="#pbF" transform="rotate(121)scale(1.08)"/><use href="#pbF" transform="rotate(130)scale(1.06)"/><use href="#pbF" transform="rotate(139)scale(1.04)"/><use href="#pbF" transform="rotate(150)scale(1.02)"/><use href="#pbF" transform="rotate(161)"/><use href="#pbF" transform="rotate(170)scale(.99)"/><use href="#pbF" transform="rotate(180)scale(.98)"/><use href="#pbF" transform="rotate(189)scale(.99)"/><use href="#pbF" transform="rotate(200)"/><use href="#pbF" transform="rotate(211)scale(1.03)"/><use href="#pbF" transform="rotate(220)scale(1.05)"/><use href="#pbF" transform="rotate(229)scale(1.07)"/><use href="#pbF" transform="rotate(240)scale(1.05)"/><use href="#pbF" transform="rotate(251)"/>
</g>
<g transform="translate(600 438)">
<use href="#bsH" transform="rotate(-118.1)scale(1.075)"/><use href="#bsCF" transform="rotate(-118.1)scale(1.075)"/>
<use href="#psF" transform="rotate(-150)scale(.96)"/><use href="#psF" transform="rotate(-140)"/><use href="#psF" transform="rotate(-130)scale(.98)"/><use href="#psF" transform="rotate(-120)scale(1.02)"/><use href="#psF" transform="rotate(-110)scale(.97)"/><use href="#psF" transform="rotate(-100)"/><use href="#psT" transform="rotate(-90)scale(.96)"/><use href="#psT" transform="rotate(-80)scale(.98)"/>
</g>
<g transform="translate(793 435)">
<use href="#bsH" transform="rotate(-85.3)scale(.961)"/><use href="#bsC" transform="rotate(-85.3)scale(.961)"/>
<use href="#psF" transform="rotate(-100)"/><use href="#psT" transform="rotate(-90)scale(.99)"/><use href="#psT" transform="rotate(-80)scale(1.01)"/><use href="#psT" transform="rotate(-70)scale(.98)"/><use href="#psT" transform="rotate(-60)"/><use href="#psT" transform="rotate(-50)scale(.97)"/>
</g>
<g transform="translate(680 1055)">
<use href="#bsH" transform="rotate(106)scale(.958)"/><use href="#bsCF" transform="rotate(106)scale(.958)"/>
<use href="#psT" transform="rotate(75)scale(1.03)"/><use href="#psT" transform="rotate(85)scale(1.03)"/><use href="#psF" transform="rotate(95)scale(1.02)"/><use href="#psF" transform="rotate(105)scale(1.05)"/><use href="#psF" transform="rotate(115)scale(1.04)"/><use href="#psF" transform="rotate(125)"/><use href="#psF" transform="rotate(135)scale(.97)"/>
</g>
<g transform="translate(856 1034)">
<use href="#bsH" transform="rotate(72.5)scale(.899)"/><use href="#bsC" transform="rotate(72.5)scale(.899)"/>
<use href="#psT" transform="rotate(40)"/><use href="#psT" transform="rotate(50)scale(1.03)"/><use href="#psT" transform="rotate(60)"/><use href="#psT" transform="rotate(70)scale(1.04)"/><use href="#psT" transform="rotate(80)scale(1.02)"/><use href="#psT" transform="rotate(90)scale(1.03)"/>
</g>
</g>

<g id="supporter-nodes">
<g id="supporters-right" transform="translate(1057 720)">
<use href="#pbN" transform="rotate(-100)scale(.98)"/><use href="#pbN" transform="rotate(-89)"/><use href="#pbN" transform="rotate(-80)scale(1.03)"/><use href="#pbN" transform="rotate(-71)scale(1.05)"/><use href="#pbN" transform="rotate(-60)scale(1.02)"/><use href="#pbN" transform="rotate(-49)scale(1.06)"/><use href="#pbN" transform="rotate(-40)scale(1.02)"/><use href="#pbN" transform="rotate(-31)"/><use href="#pbN" transform="rotate(-20)scale(.97)"/><use href="#pbN" transform="rotate(-10)scale(.96)"/><use href="#pbN" transform="scale(.96)"/><use href="#pbN" transform="rotate(11)scale(.97)"/><use href="#pbN" transform="rotate(20)scale(.98)"/><use href="#pbN" transform="rotate(30)"/><use href="#pbN" transform="rotate(41)scale(1.02)"/><use href="#pbN" transform="rotate(50)scale(1.05)"/><use href="#pbN" transform="rotate(60)"/><use href="#pbN" transform="rotate(71)scale(.97)"/><use href="#pbN" transform="rotate(80)scale(.95)"/>
</g>
<g id="supporters-left" transform="translate(489 790)">
<use href="#pbN" transform="rotate(81)scale(.98)"/><use href="#pbN" transform="rotate(90)"/><use href="#pbN" transform="rotate(99)scale(1.04)"/><use href="#pbN" transform="rotate(110)scale(1.07)"/><use href="#pbN" transform="rotate(121)scale(1.08)"/><use href="#pbN" transform="rotate(130)scale(1.06)"/><use href="#pbN" transform="rotate(139)scale(1.04)"/><use href="#pbN" transform="rotate(150)scale(1.02)"/><use href="#pbN" transform="rotate(161)"/><use href="#pbN" transform="rotate(170)scale(.99)"/><use href="#pbN" transform="rotate(180)scale(.98)"/><use href="#pbN" transform="rotate(189)scale(.99)"/><use href="#pbN" transform="rotate(200)"/><use href="#pbN" transform="rotate(211)scale(1.03)"/><use href="#pbN" transform="rotate(220)scale(1.05)"/><use href="#pbN" transform="rotate(229)scale(1.07)"/><use href="#pbN" transform="rotate(240)scale(1.05)"/><use href="#pbN" transform="rotate(251)"/>
</g>
<g id="supporters-topleft" transform="translate(600 438)">
<use href="#psN" transform="rotate(-150)scale(.96)"/><use href="#psN" transform="rotate(-140)"/><use href="#psN" transform="rotate(-130)scale(.98)"/><use href="#psN" transform="rotate(-120)scale(1.02)"/><use href="#psN" transform="rotate(-110)scale(.97)"/><use href="#psN" transform="rotate(-100)"/><use href="#psN" transform="rotate(-90)scale(.96)"/><use href="#psN" transform="rotate(-80)scale(.98)"/>
</g>
<g id="supporters-top" transform="translate(793 435)">
<use href="#psN" transform="rotate(-100)"/><use href="#psN" transform="rotate(-90)scale(.99)"/><use href="#psN" transform="rotate(-80)scale(1.01)"/><use href="#psN" transform="rotate(-70)scale(.98)"/><use href="#psN" transform="rotate(-60)"/><use href="#psN" transform="rotate(-50)scale(.97)"/>
</g>
<g id="supporters-bottom" transform="translate(680 1055)">
<use href="#psN" transform="rotate(75)scale(1.03)"/><use href="#psN" transform="rotate(85)scale(1.03)"/><use href="#psN" transform="rotate(95)scale(1.02)"/><use href="#psN" transform="rotate(105)scale(1.05)"/><use href="#psN" transform="rotate(115)scale(1.04)"/><use href="#psN" transform="rotate(125)"/><use href="#psN" transform="rotate(135)scale(.97)"/>
</g>
<g id="supporters-bottomright" transform="translate(856 1034)">
<use href="#psN" transform="rotate(40)"/><use href="#psN" transform="rotate(50)scale(1.03)"/><use href="#psN" transform="rotate(60)"/><use href="#psN" transform="rotate(70)scale(1.04)"/><use href="#psN" transform="rotate(80)scale(1.02)"/><use href="#psN" transform="rotate(90)scale(1.03)"/>
</g>
</g>

<g id="participant-nodes">
<g id="participants-right" transform="translate(1057 720)"><use href="#bbN" transform="rotate(-6.1)scale(1.02)"/></g>
<g id="participants-left" transform="translate(489 790)"><use href="#bbN" transform="rotate(172)scale(.981)"/></g>
<g id="participants-topleft" transform="translate(600 438)"><use href="#bsN" transform="rotate(-118.1)scale(1.075)"/></g>
<g id="participants-top" transform="translate(793 435)"><use href="#bsN" transform="rotate(-85.3)scale(.961)"/></g>
<g id="participants-bottom" transform="translate(680 1055)"><use href="#bsN" transform="rotate(106)scale(.958)"/></g>
<g id="participants-bottomright" transform="translate(856 1034)"><use href="#bsN" transform="rotate(72.5)scale(.899)"/></g>
</g>

<g id="hub-nodes">
<g id="node-center"><circle class="y" cx="767" cy="751" r="5.8"/></g>
<g id="node-hub-right"><circle class="y" cx="1057" cy="720" r="5.8"/></g>
<g id="node-hub-left"><circle class="y" cx="489" cy="790" r="5.8"/></g>
<g id="node-hub-topleft"><circle class="y" cx="600" cy="438" r="5.8"/></g>
<g id="node-hub-top"><circle class="y" cx="793" cy="435" r="5.8"/></g>
<g id="node-hub-bottom"><circle class="y" cx="680" cy="1055" r="5.8"/></g>
<g id="node-hub-bottomright"><circle class="y" cx="856" cy="1034" r="5.8"/></g>
</g>
</svg>
